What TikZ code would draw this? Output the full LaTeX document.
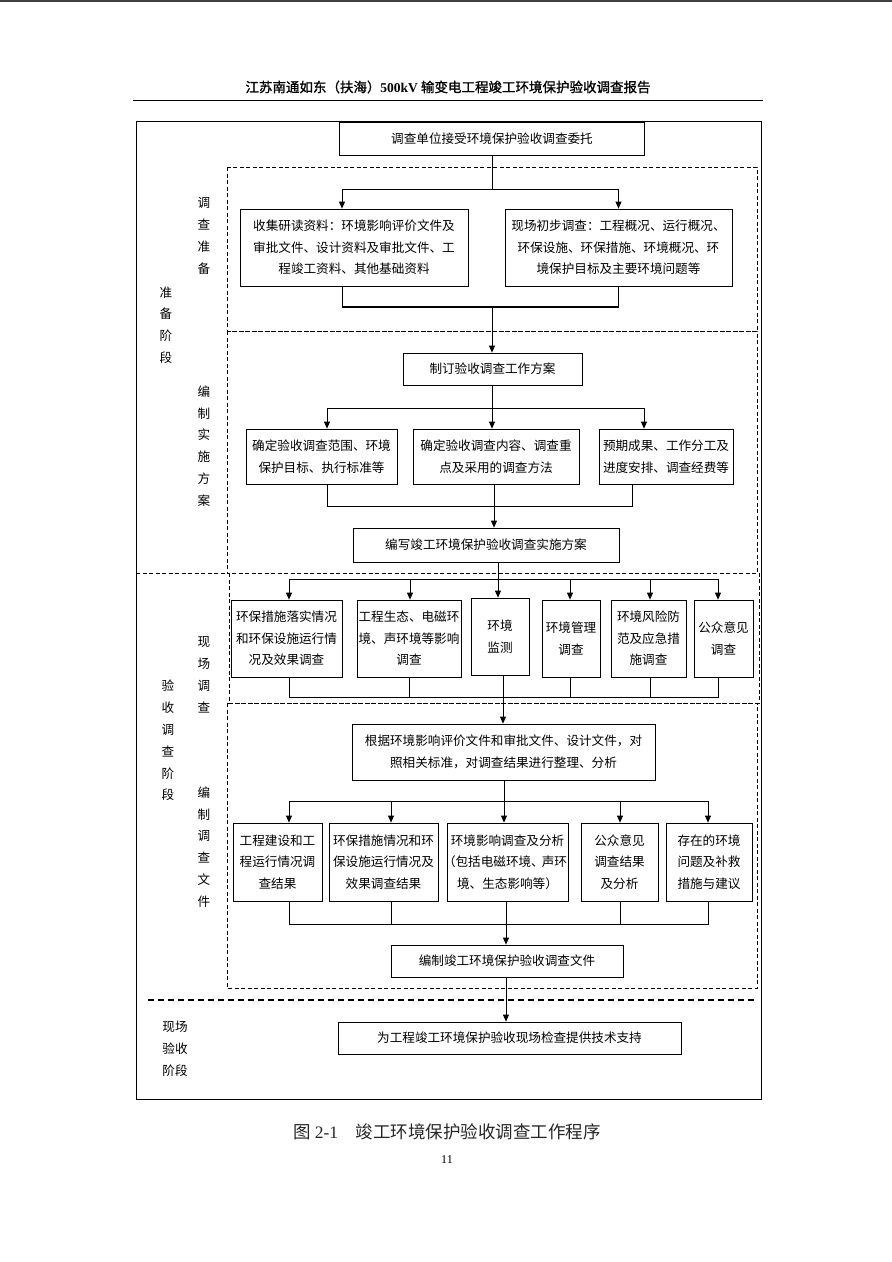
\documentclass[tikz,border=0pt]{standalone}
\usepackage{fontspec}
\setmainfont{Noto Sans CJK SC}
\newfontfamily\tnr{Liberation Serif}
\newfontfamily\hdrfont[FakeBold=1.2]{Noto Sans CJK SC}
\usetikzlibrary{arrows.meta}
\tikzset{
  box/.style={draw=black,line width=0.8pt,inner sep=1pt,align=center,font=\fontsize{12.6}{21.5}\selectfont},
  lab/.style={align=center,inner sep=0pt,font=\fontsize{12.6}{21.8}\selectfont},
  conn/.style={line width=0.8pt},
  arr/.style={conn,-{Triangle[length=7pt,width=6pt]}},
  dashbox/.style={draw=black,line width=0.7pt,dash pattern=on 4pt off 2.5pt},
}

\begin{document}
\begin{tikzpicture}[x=1pt,y=-1pt]
\useasboundingbox (0,0) rectangle (892,1262);
% page edge and running head:
\draw[line width=2pt,black!75] (0,1) -- (892,1);
\node[font={\hdrfont\fontsize{13.5}{16}\selectfont}] (head) at (448,87) {江苏南通如东（扶海）{\tnr\bfseries 500kV} 输变电工程竣工环境保护验收调查报告};
\draw[line width=1pt] (133,100) -- (763,100);
% frame and dashed stages:
\draw[line width=1pt] (136,121) rectangle (761,1099);
\draw[dashbox] (227,167) rectangle (757,331);
\draw[dashbox] (227,331) rectangle (757,573);
\draw[dashbox] (136,573) -- (227,573);
\draw[dashbox] (229,573) rectangle (759,703);
\draw[dashbox] (227,703) rectangle (757,988);
\draw[line width=2pt,dash pattern=on 6pt off 4pt] (148,1000) -- (757,1000);
% stage labels:
\node[lab] (labA) at (204,236) {调\\查\\准\\备};
\node[lab] (labB) at (166,325) {准\\备\\阶\\段};
\node[lab] (labC) at (204,446) {编\\制\\实\\施\\方\\案};
\node[lab] (labD) at (204,675) {现\\场\\调\\查};
\node[lab] (labE) at (168,740.5) {验\\收\\调\\查\\阶\\段};
\node[lab] (labF) at (204,847) {编\\制\\调\\查\\文\\件};
\node[lab] (labG) at (175,1049) {现场\\验收\\阶段};
% boxes, preparation:
\node[box,minimum width=305,minimum height=33] (entrust) at (492,138.5) {调查单位接受环境保护验收调查委托};
\node[box,minimum width=228,minimum height=77] (collect) at (354,247.5) {收集研读资料：环境影响评价文件及\\审批文件、设计资料及审批文件、工\\程竣工资料、其他基础资料};
\node[box,minimum width=227,minimum height=77] (site) at (618.5,247.5) {现场初步调查：工程概况、运行概况、\\环保设施、环保措施、环境概况、环\\境保护目标及主要环境问题等};
\node[box,minimum width=179,minimum height=32] (plan) at (492.5,369) {制订验收调查工作方案};
\node[box,minimum width=151,minimum height=55] (scopeA) at (321.5,456.5) {确定验收调查范围、环境\\保护目标、执行标准等};
\node[box,minimum width=166,minimum height=55] (scopeB) at (496,456.5) {确定验收调查内容、调查重\\点及采用的调查方法};
\node[box,minimum width=134,minimum height=55] (scopeC) at (666,456.5) {预期成果、工作分工及\\进度安排、调查经费等};
\node[box,minimum width=266,minimum height=34] (draft) at (486,545) {编写竣工环境保护验收调查实施方案};
% boxes, survey:
\node[box,minimum width=111,minimum height=77] (s1) at (286.5,638.5) {环保措施落实情况\\和环保设施运行情\\况及效果调查};
\node[box,minimum width=104,minimum height=77] (s2) at (409,638.5) {工程生态、电磁环\\境、声环境等影响\\调查};
\node[box,minimum width=58,minimum height=77] (s3) at (500,636.5) {环境\\监测};
\node[box,minimum width=58,minimum height=77] (s4) at (571,638.5) {环境管理\\调查};
\node[box,minimum width=75,minimum height=77] (s5) at (648.5,638.5) {环境风险防\\范及应急措\\施调查};
\node[box,minimum width=59,minimum height=77] (s6) at (723.5,638.5) {公众意见\\调查};
\node[box,minimum width=303,minimum height=56] (analyze) at (503.5,752) {根据环境影响评价文件和审批文件、设计文件，对\\照相关标准，对调查结果进行整理、分析};
\node[box,minimum width=89,minimum height=78] (d1) at (277.5,862) {工程建设和工\\程运行情况调\\查结果};
\node[box,minimum width=109,minimum height=78] (d2) at (383.5,862) {环保措施情况和环\\保设施运行情况及\\效果调查结果};
\node[box,minimum width=121,minimum height=78] (d3) at (507.5,862) {环境影响调查及分析\\\kern-5pt（包括电磁环境、\kern-2pt声环\\境、生态影响等）};
\node[box,minimum width=77,minimum height=78] (d4) at (619.5,862) {公众意见\\调查结果\\及分析};
\node[box,minimum width=86,minimum height=78] (d5) at (709,862) {存在的环境\\问题及补救\\措施与建议};
\node[box,minimum width=232,minimum height=32] (compile) at (507,961) {编制竣工环境保护验收调查文件};
\node[box,minimum width=343,minimum height=32] (support) at (509.5,1038) {为工程竣工环境保护验收现场检查提供技术支持};
% connectors, preparation:
\coordinate (fa) at (492,189);
\coordinate (ga) at (492,307);
\coordinate (collectI) at ([xshift=-12pt]collect.north);
\coordinate (collectO) at ([xshift=-12pt]collect.south);
\draw[conn] (entrust.south) -- (fa);
\draw[arr] (fa) -| (collectI);
\draw[arr] (fa) -| (site.north);
\draw[conn] (collectO) -- (collectO |- ga);
\draw[conn] (site.south) -- (site.south |- ga);
\draw[line width=2pt] (collectO |- ga) -- (site.south |- ga);
\draw[arr] (ga) -- (ga |- plan.north);
\coordinate (fb) at (492,408);
\coordinate (gb) at (494,506);
\coordinate (scopeAI) at ([xshift=5.5pt]scopeA.north);
\coordinate (scopeAO) at ([xshift=5.5pt]scopeA.south);
\coordinate (scopeCI) at ([xshift=-22pt]scopeC.north);
\coordinate (scopeCO) at ([xshift=-34pt]scopeC.south);
\draw[conn] (fb |- plan.south) -- (fb);
\draw[arr] (fb) -| (scopeAI);
\draw[arr] (fb) -- (fb |- scopeB.north);
\draw[arr] (fb) -| (scopeCI);
\draw[conn] (scopeAO) |- (gb);
\draw[conn] (scopeCO) |- (gb);
\draw[conn] (gb |- scopeB.south) -- (gb);
\draw[arr] (gb) -- (gb |- draft.north);
% connectors, survey:
\coordinate (fc) at (498,579);
\coordinate (gc) at (503,697);
\coordinate (s1I) at ([xshift=2.5pt]s1.north);
\coordinate (s1O) at ([xshift=2.5pt]s1.south);
\coordinate (s2I) at ([xshift=1pt]s2.north);
\coordinate (s4I) at ([xshift=-1pt]s4.north);
\coordinate (s4O) at ([xshift=-1pt]s4.south);
\coordinate (s5I) at ([xshift=1.5pt]s5.north);
\coordinate (s5O) at ([xshift=1.5pt]s5.south);
\coordinate (s6I) at ([xshift=-5.5pt]s6.north);
\coordinate (s6O) at ([xshift=-5.5pt]s6.south);
\draw[conn] (fc |- draft.south) -- (fc);
\draw[arr] (fc) -| (s1I);
\draw[arr] (fc) -| (s2I);
\draw[arr] (fc) -- (fc |- s3.north);
\draw[arr] (fc) -| (s4I);
\draw[arr] (fc) -| (s5I);
\draw[arr] (fc) -| (s6I);
\draw[conn] (s1O) |- (gc);
\draw[conn] (s6O) |- (gc);
\draw[conn] (s2.south) -- (s2.south |- gc);
\draw[conn] (s4O) -- (s4O |- gc);
\draw[conn] (s5O) -- (s5O |- gc);
\draw[arr] (gc |- s3.south) -- (gc |- analyze.north);
% connectors, documents:
\coordinate (fd) at (504,801);
\coordinate (gd) at (506,924);
\coordinate (d1I) at ([xshift=11.5pt]d1.north);
\coordinate (d1O) at ([xshift=11.5pt]d1.south);
\coordinate (d2I) at ([xshift=7.5pt]d2.north);
\coordinate (d2O) at ([xshift=7.5pt]d2.south);
\coordinate (d4I) at ([xshift=0.5pt]d4.north);
\coordinate (d4O) at ([xshift=0.5pt]d4.south);
\coordinate (d5I) at ([xshift=-1pt]d5.north);
\coordinate (d5O) at ([xshift=-1pt]d5.south);
\draw[conn] (fd |- analyze.south) -- (fd);
\draw[arr] (fd) -| (d1I);
\draw[arr] (fd) -| (d2I);
\draw[arr] (fd) -- (fd |- d3.north);
\draw[arr] (fd) -| (d4I);
\draw[arr] (fd) -| (d5I);
\draw[conn] (d1O) |- (gd);
\draw[conn] (d5O) |- (gd);
\draw[conn] (d2O) -- (d2O |- gd);
\draw[conn] (d4O) -- (d4O |- gd);
\draw[arr] (gd |- d3.south) -- (gd |- compile.north);
\draw[arr] (gd |- compile.south) -- (gd |- support.north);
% caption and page number:
\node[font=\fontsize{17.5}{20}\selectfont,text=black!85] (cap) at (447,1132) {图 {\tnr 2-1}\hspace{1em}竣工环境保护验收调查工作程序};
\node[font=\tnr\fontsize{12}{14}\selectfont] (pnum) at (447,1160) {11};
\end{tikzpicture}
\end{document}
